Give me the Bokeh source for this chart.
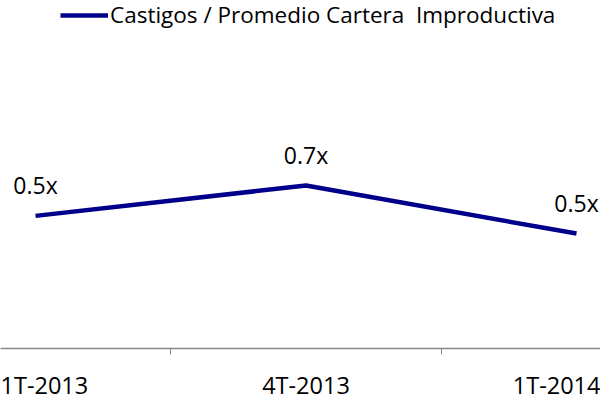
from bokeh.plotting import figure
from bokeh.models import ColumnDataSource, FixedTicker, Legend, LegendItem
from bokeh.core.properties import value
from bokeh.embed import file_html
from bokeh.resources import INLINE

categories = ["1T-2013", "4T-2013", "1T-2014"]
ratios = [0.54, 0.66, 0.47]
labels = ["0.5x", "0.7x", "0.5x"]
series_name = "Castigos / Promedio Cartera  Improductiva"

xs = list(range(len(categories)))
src = ColumnDataSource(dict(x=xs, y=ratios, lab=labels))

FONT = "Open Sans"
BLUE = "#00008B"

p = figure(width=600, height=403, output_backend="svg", toolbar_location=None,
           x_range=(-0.1294, 2.0887), y_range=(0.0158, 1.3913),
           min_border_left=0, min_border_right=0, min_border_top=0, min_border_bottom=51)
p.outline_line_color = None
p.xgrid.visible = False
p.ygrid.visible = False
p.yaxis.visible = False
p.background_fill_color = "white"
p.border_fill_color = "white"

r = p.line("x", "y", source=src, line_color=BLUE, line_width=4.5)
p.text("x", "y", text="lab", source=src, y_offset=-31, text_align="center",
       text_baseline="middle", text_font=value(FONT), text_font_size="23px",
       text_color="black")

ax = p.xaxis[0]
ax.ticker = FixedTicker(ticks=xs, minor_ticks=[0.5, 1.5])
ax.major_label_overrides = {i: c for i, c in enumerate(categories)}
ax.major_tick_out = 0
ax.major_tick_in = 0
ax.minor_tick_out = 6
ax.minor_tick_in = 0
ax.minor_tick_line_color = "#868686"
ax.axis_line_color = "#868686"
ax.axis_line_width = 1.5
ax.major_label_text_font = FONT
ax.major_label_text_font_size = "23.5px"
ax.major_label_text_color = "black"
ax.major_label_text_line_height = 0.5
ax.major_label_standoff = 14

legend = Legend(items=[LegendItem(label=series_name, renderers=[r])],
                location=(60, 318), orientation="horizontal",
                label_text_font=FONT, label_text_font_size="22.5px",
                label_text_color="black", glyph_width=48, label_standoff=2,
                margin=0, padding=0, border_line_color=None,
                background_fill_alpha=0)
p.add_layout(legend)

open("out.html", "w").write(file_html(p, INLINE))
